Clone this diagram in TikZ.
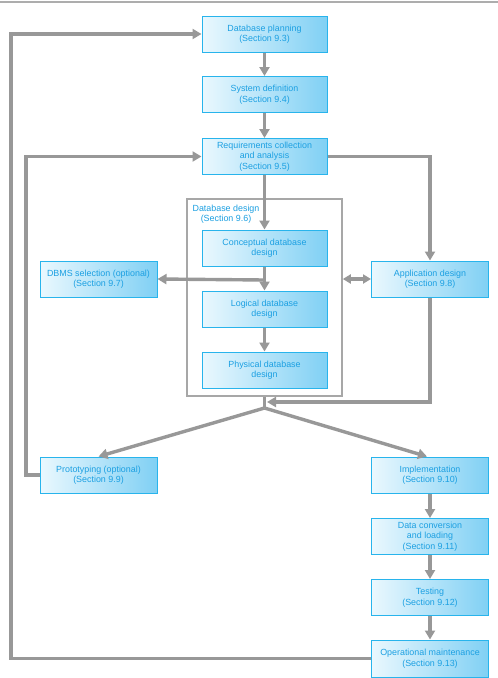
\documentclass[tikz,border=0pt]{standalone}
\usepackage{fontspec}
\setmainfont{Liberation Sans}
\usetikzlibrary{arrows.meta}
\definecolor{boxline}{RGB}{40,180,236}
\definecolor{boxtext}{RGB}{28,160,226}
\definecolor{boxleft}{RGB}{234,248,254}
\definecolor{boxright}{RGB}{128,208,244}
\definecolor{flowgray}{RGB}{152,152,152}
\tikzset{
	stage/.style={draw=boxline, line width=1pt, shading=axis, left color=boxleft, right color=boxright,
		text=boxtext, font=\fontsize{8.9}{10.6}\selectfont, align=center, inner sep=0pt,
		minimum width=125pt, minimum height=36pt},
	sidestage/.style={stage, minimum width=117pt},
	flow/.style={draw=flowgray, line width=3.4pt, -{Triangle[length=9pt,width=10pt]}},
	twoway/.style={flow, {Triangle[length=8pt,width=9pt]}-{Triangle[length=8pt,width=9pt]}},
	plain/.style={draw=flowgray, line width=3.4pt}
}

\begin{document}
\begin{tikzpicture}[x=1pt,y=-1pt]
			%%%%% START %%%%%
			
			\useasboundingbox[fill=white] (0,0) rectangle (498,678);
			\draw[flowgray!80, line width=2pt] (0,2) -- (498,2);
			
			% database design frame
			\node[draw=flowgray!85, line width=1.6pt, minimum width=155pt, minimum height=197pt, inner sep=0pt] (design) at (264.5,297.5) {};
			\node[text=boxtext, font=\fontsize{8.9}{10.4}\selectfont, align=center] (designlabel) at (226,214) {Database design\\(Section 9.6)};
			
			% main column
			\node[stage] (plan) at (264.5,34) {Database planning\\(Section 9.3)};
			\node[stage] (sysdef) at (264.5,94.5) {System definition\\(Section 9.4)};
			\node[stage] (req) at (264.5,156.5) {Requirements collection\\and analysis\\(Section 9.5)};
			\node[stage] (concept) at (264.5,248) {Conceptual database\\design};
			\node[stage] (logical) at (264.5,309) {Logical database\\design};
			\node[stage] (physical) at (264.5,370) {Physical database\\design};
			
			% side boxes
			\node[sidestage] (dbms) at (98.5,279) {DBMS selection (optional)\\(Section 9.7)};
			\node[sidestage] (app) at (430,279) {Application design\\(Section 9.8)};
			\node[sidestage] (proto) at (98.5,475) {Prototyping (optional)\\(Section 9.9)};
			\node[sidestage] (impl) at (430,475) {Implementation\\(Section 9.10)};
			\node[sidestage] (conv) at (430,536.5) {Data conversion\\and loading\\(Section 9.11)};
			\node[sidestage] (test) at (430,597.5) {Testing\\(Section 9.12)};
			\node[sidestage, minimum height=37pt] (oper) at (430,658.5) {Operational maintenance\\(Section 9.13)};
			
			\coordinate (split) at (264.5,280);
			\coordinate (merge) at (267,402);
			\coordinate (fork) at (264.5,408);
			\coordinate (outerx) at (11,0);
			\coordinate (innerx) at (26,0);
			
			% arrows
			\draw[flow] (plan) -- (sysdef);
			\draw[flow] (sysdef) -- (req);
			\draw[flow] (req) -- (concept);
			\draw[flow] (req.east) -| (app.north);
			\draw[flow] (concept) -- (logical);
			\draw[flow] (split) -- (dbms.east);
			\draw[flow] (logical) -- (physical);
			\draw[twoway] (design.east |- app.west) -- (app.west);
			\draw[flow] (app.south) |- (merge);
			\draw[plain] (design.south) -- (fork);
			\draw[flow] (fork) -- (proto.north);
			\draw[flow] (fork) -- ([xshift=-3pt]impl.north);
			\draw[flow] (impl) -- (conv);
			\draw[flow] (conv) -- (test);
			\draw[flow] (test) -- (oper);
			
			% feedback loops
			\draw[flow] (proto.west) -- (proto.west -| innerx) |- (req.west);
			\draw[flow] (oper.west) -- (oper.west -| outerx) |- (plan.west);
			
			%%%%% END %%%%%
		\end{tikzpicture}
\end{document}
